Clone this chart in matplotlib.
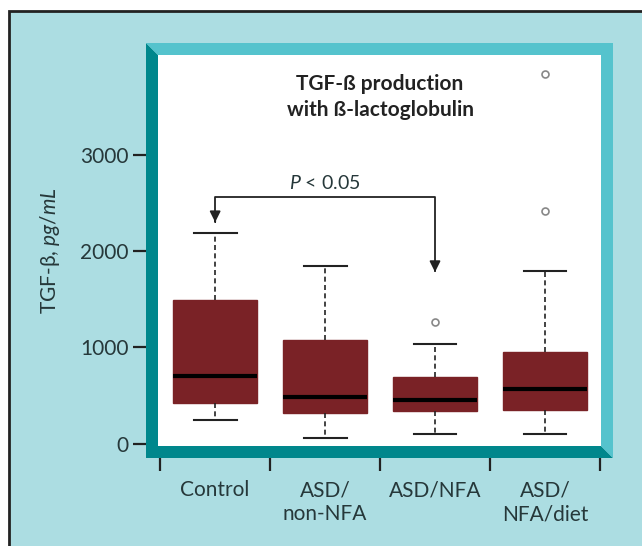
import matplotlib
matplotlib.use("Agg")
import matplotlib.pyplot as plt
from matplotlib.patches import Polygon, Rectangle

plt.rcParams['font.family'] = ['Lato', 'DejaVu Sans']
plt.rcParams['mathtext.fontset'] = 'custom'
plt.rcParams['mathtext.rm'] = 'Lato'
plt.rcParams['mathtext.it'] = 'Lato:italic'

# box plot summary values (pg/mL)
groups = ['Control', 'ASD/\nnon-NFA', 'ASD/NFA', 'ASD/\nNFA/diet']
whislo = [245, 54, 104, 104]
q1 = [425, 321, 343, 353]
med = [702, 487, 457, 571]
q3 = [1493, 1077, 696, 955]
whishi = [2190, 1850, 1038, 1798]
fliers = [[], [], [1267], [2422, 3842]]

yticks = [0, 1000, 2000, 3000]

txt = '#26383a'
box_col = '#7a2226'
bg = '#acdde2'
dark_teal = '#00878c'
light_teal = '#55c3cd'
fs = 15

W, H = 642, 546
fig = plt.figure(figsize=(W / 100, H / 100), dpi=100)
fig.patch.set_facecolor('white')

def fx(px):
    return px / W

def fy(py):
    return 1 - py / H

# outer panel with dark border
fig.add_artist(Rectangle((fx(9), -0.1), 1.2, fy(11) + 0.1, facecolor=bg,
                         edgecolor='#222222', lw=2, transform=fig.transFigure,
                         zorder=-3))

# bevelled teal frame
o = (146, 43, 613, 458)
i = (158, 55, 601, 446)
dark = [(o[0], o[1]), (i[0], i[1]), (i[0], i[3]), (i[2], i[3]), (o[2], o[3]), (o[0], o[3])]
light = [(o[0], o[1]), (o[2], o[1]), (o[2], o[3]), (i[2], i[3]), (i[2], i[1]), (i[0], i[1])]
fig.add_artist(Polygon([(fx(a), fy(b)) for a, b in dark], closed=True,
                       facecolor=dark_teal, edgecolor='none', transform=fig.transFigure,
                       zorder=-2))
fig.add_artist(Polygon([(fx(a), fy(b)) for a, b in light], closed=True,
                       facecolor=light_teal, edgecolor='none', transform=fig.transFigure,
                       zorder=-2))

ax = fig.add_axes([fx(158), fy(446), fx(601) - fx(158), fy(55) - fy(446)])
ax.set_facecolor('white')

stats = []
for k in range(len(groups)):
    stats.append({'whislo': whislo[k], 'q1': q1[k], 'med': med[k], 'q3': q3[k],
                  'whishi': whishi[k], 'fliers': fliers[k]})

pos = list(range(1, len(groups) + 1))
ax.bxp(stats, positions=pos, widths=0.76, patch_artist=True, showfliers=True,
       boxprops=dict(facecolor=box_col, edgecolor=box_col, lw=1),
       medianprops=dict(color='black', lw=3),
       whiskerprops=dict(color='#222222', lw=1.2, linestyle=(0, (3, 2))),
       capprops=dict(color='#222222', lw=1.5),
       capwidths=0.39,
       flierprops=dict(marker='o', markersize=5, markerfacecolor='none',
                       markeredgecolor='#888888', markeredgewidth=1.2))

ax.set_xlim(0.48, 4.51)
ax.set_ylim(-26, 4043)

for s in ax.spines.values():
    s.set_visible(False)
ax.spines['left'].set_position(('outward', 8.6))
ax.spines['bottom'].set_position(('outward', 8.6))

ax.set_yticks(yticks)
ax.set_yticklabels([str(v) for v in yticks])
ax.tick_params(axis='y', direction='out', length=9.4, width=1.6, color='#222222',
               labelsize=fs, labelcolor=txt, pad=3)

# category boundary ticks, labels at category centres
ax.set_xticks([0.5, 1.5, 2.5, 3.5, 4.5])
ax.set_xticklabels([])
ax.set_xticks(pos, minor=True)
ax.set_xticklabels(groups, minor=True)
ax.tick_params(axis='x', which='major', direction='out', length=9.4, width=1.6,
               color='#222222')
ax.tick_params(axis='x', which='minor', length=0, labelsize=fs, labelcolor=txt,
               pad=16)
for lab in ax.get_xticklabels(minor=True):
    lab.set_linespacing(1.25)

ax.set_ylabel('TGF-β, $\\it{pg/mL}$', fontsize=fs, color=txt, labelpad=13)

ax.text(2.5, 3606, 'TGF-ß production\nwith ß-lactoglobulin', ha='center', va='center',
        fontsize=fs, fontweight='bold', color='#222222', linespacing=1.35)

# significance bracket between Control and ASD/NFA
ybar = 2565
ax.plot([1, 1, 3, 3], [2330, ybar, ybar, 1810], color='#222222', lw=1.3)
ax.annotate('', xy=(1, 2274), xytext=(1, 2340),
            arrowprops=dict(arrowstyle='-|>', color='#222222', lw=1.3, mutation_scale=16))
ax.annotate('', xy=(3, 1755), xytext=(3, 1830),
            arrowprops=dict(arrowstyle='-|>', color='#222222', lw=1.3, mutation_scale=16))
ax.text(2, 2710, '$\\it{P}$ < 0.05', ha='center', va='center', fontsize=14, color=txt)

fig.savefig('out.png', dpi=100, facecolor=fig.get_facecolor())
